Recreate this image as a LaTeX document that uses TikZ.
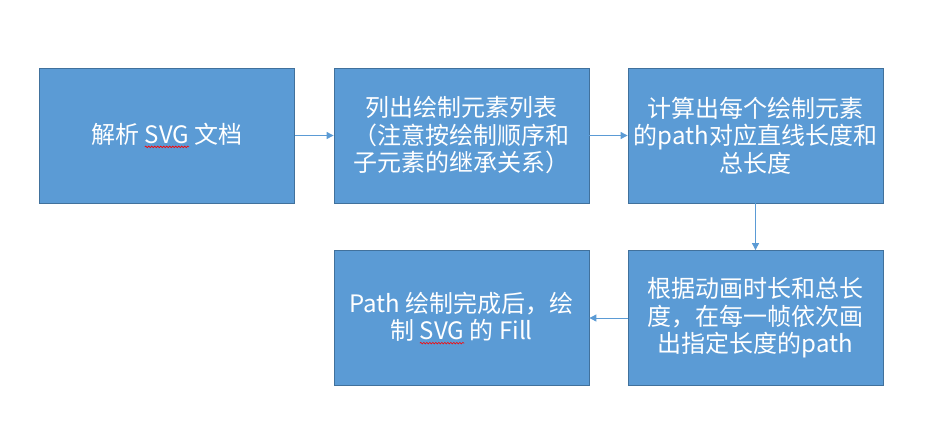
\documentclass[tikz,border=0pt]{standalone}
\usepackage{fontspec}
\setmainfont{Noto Sans CJK SC}
\usetikzlibrary{arrows.meta,decorations.pathmorphing}
\definecolor{boxfill}{HTML}{5B9BD5}
\definecolor{boxline}{HTML}{41719C}
\definecolor{arrowc}{HTML}{5B9BD5}
\newcommand\squig[1]{\tikz[baseline=(w.base),x=1pt,y=1pt]{\node[inner sep=0pt,outer sep=0pt,minimum width=0pt,minimum height=0pt,draw=none,fill=none,text=white,anchor=base](w){#1};\draw[red,line width=0.6pt,decorate,decoration={snake,amplitude=0.8pt,segment length=3pt}] ([yshift=-3.5pt]w.base west) -- ([yshift=-3.5pt]w.base east);}}
\begin{document}
\begin{tikzpicture}[x=1pt,y=-1pt,
  flowbox/.style={draw=boxline,line width=0.8pt,fill=boxfill,text=white,
    minimum width=255pt,minimum height=135pt,inner sep=0pt,align=center,
    font=\fontsize{24}{27.5}\selectfont},
  conn/.style={draw=arrowc,line width=0.9pt,-{Triangle[length=7pt,width=7pt]}}]
\useasboundingbox (0,0) rectangle (931,440);
\node[flowbox] (b1) at (167,135.5) {解析 \squig{SVG} 文档};
\node[flowbox] (b2) at (461.5,135.5) {列出绘制元素列表\\（注意按绘制顺序和\\子元素的继承关系）};
\node[flowbox] (b3) at (755.5,135.5) {计算出每个绘制元素\\的path对应直线长度和\\总长度};
\node[flowbox] (b4) at (755.5,318) {根据动画时长和总长\\度，在每一帧依次画\\出指定长度的path};
\node[flowbox] (b5) at (461.5,318) {Path 绘制完成后，绘\\制 \squig{SVG} 的 Fill};
\draw[conn] (b1) -- (b2);
\draw[conn] (b2) -- (b3);
\draw[conn] (b3) -- (b4);
\draw[conn] (b4) -- (b5);
\end{tikzpicture}
\end{document}
